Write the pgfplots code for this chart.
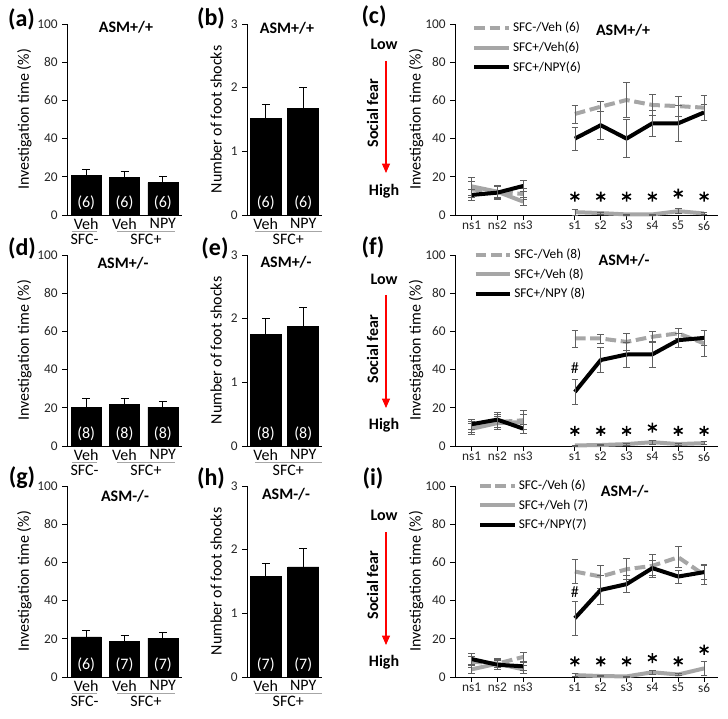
\documentclass[border=0pt]{standalone}
\usepackage{pgfplots}
\pgfplotsset{compat=1.18}
\usepackage{fontspec}
\setmainfont{Carlito}
\usetikzlibrary{arrows.meta}
\definecolor{lg}{HTML}{A6A6A6}
\definecolor{eb}{HTML}{606060}
\pgfplotsset{
 base/.style={scale only axis, axis lines=left, axis line style={black, line width=0.6pt, -},
   tick align=outside, major tick length=3.5pt, tick style={black, line width=0.6pt},
   ticklabel style={font=\fontsize{10}{12}\selectfont, text=black!85},
   /pgf/number format/assume math mode=true,
   ylabel style={font=\fontsize{12}{14}\selectfont, anchor=center},
   clip=false, anchor=south west, height=143.25pt, ymin=0},
 barA/.style={base, width=86.25pt, xmin=0.5, xmax=3.5, ymax=100, ytick={0,20,...,100},
   xtick={1,2,3}, xticklabels={Veh,Veh,NPY}, xtick style={draw=none},
   xticklabel style={font=\fontsize{12}{14}\selectfont, text=black, inner sep=0pt, yshift=1pt},
   ylabel={Investigation time (\%)}, ylabel style={at={(axis description cs:-0.37,0.5)}}},
 barB/.style={base, width=56.25pt, xmin=0.5, xmax=2.5, ymax=3, ytick={0,1,2,3},
   xtick={1,2}, xticklabels={Veh,NPY}, xtick style={draw=none},
   xticklabel style={font=\fontsize{12}{14}\selectfont, text=black, inner sep=0pt, yshift=1pt},
   ylabel={Number of foot shocks}, ylabel style={at={(axis description cs:-0.413,0.5)}}},
 lineC/.style={base, width=197.25pt, xmin=0.36, xmax=10.54, ymax=100, ytick={0,20,...,100},
   xtick={1,2,3,5,6,7,8,9,10}, xticklabels={ns1,ns2,ns3,s1,s2,s3,s4,s5,s6},
   xticklabel style={inner sep=1pt, yshift=0pt},
   ylabel={Investigation time (\%)}, ylabel style={at={(axis description cs:-0.148,0.5)}},
   unbounded coords=jump,
   legend cell align=left,
   legend image code/.code={\draw[##1] (0pt,0pt) -- (26pt,0pt);},
   legend style={anchor=north west, draw=none, fill=none, font=\fontsize{10}{12}\selectfont,
     row sep=3pt, inner sep=0pt, nodes={inner sep=1.5pt}}},
 barplot/.style={ybar, fill=black, draw=black, error bars/y dir=plus, error bars/y explicit,
   error bars/error bar style={black, line width=0.7pt},
   error bars/error mark options={rotate=90, mark size=3pt, black, line width=0.7pt}},
 ebar/.style={error bars/y dir=both, error bars/y explicit,
   error bars/error bar style={solid, line width=0.5pt, color=eb},
   error bars/error mark options={rotate=90, mark size=2.5pt, solid, line width=0.5pt, color=eb}},
 dline/.style={line width=3pt, color=lg, dash pattern=on 8pt off 3.5pt, line join=round, mark=none, ebar},
 gline/.style={line width=3pt, color=lg, line join=round, mark=none, ebar},
 kline/.style={line width=3pt, black, line join=round, mark=none, ebar},
 ast/.style={only marks, mark=asterisk, mark size=3.8pt, line width=1.2pt, black, forget plot},
}
\tikzset{
 nlab/.style={text=white, font=\fontsize{12}{14}\selectfont},
 ttl/.style={font=\bfseries\fontsize{12}{14}\selectfont},
 grp/.style={draw=lg, line width=0.7pt},
 glab/.style={font=\fontsize{12}{14}\selectfont},
 plab/.style={font=\bfseries\fontsize{18}{20}\selectfont},
 side/.style={font=\bfseries\fontsize{12}{14}\selectfont},
}
\begin{document}
\begin{tikzpicture}
\useasboundingbox (0pt,0pt) rectangle (546pt,538.5pt);

% ---------------- Row 1 ----------------
\begin{axis}[barA, at={(50.25pt,377.25pt)}]
\addplot[barplot, bar width=22.5pt] table[x=x,y=y,y error=e]{
x y e
1 20.9 2.7
2 19.7 3.0
3 16.9 3.1
};
\node[nlab] at (axis cs:1,6.3) {(6)};
\node[nlab] at (axis cs:2,6.3) {(6)};
\node[nlab] at (axis cs:3,6.3) {(6)};
\node[ttl] at (axis description cs:0.513,0.984) {ASM+/+};
\draw[grp] ([yshift=-12pt]axis cs:0.63,0) -- ([yshift=-12pt]axis cs:1.28,0);
\draw[grp] ([yshift=-12pt]axis cs:1.80,0) -- ([yshift=-12pt]axis cs:3.32,0);
\node[glab] at ([yshift=-18.5pt]axis cs:0.96,0) {SFC-};
\node[glab] at ([yshift=-18.5pt]axis cs:2.56,0) {SFC+};
\end{axis}

\begin{axis}[barB, at={(185.25pt,377.25pt)}]
\addplot[barplot, bar width=23.25pt] table[x=x,y=y,y error=e]{
x y e
1 1.52 0.21
2 1.676 0.33
};
\node[nlab] at (axis cs:1,0.19) {(6)};
\node[nlab] at (axis cs:2,0.19) {(6)};
\node[ttl] at (axis description cs:0.533,0.979) {ASM+/+};
\draw[grp] ([yshift=-12pt]axis cs:0.71,0) -- ([yshift=-12pt]axis cs:2.49,0);
\node[glab] at ([yshift=-18.5pt]axis cs:1.6,0) {SFC+};
\end{axis}

\begin{axis}[lineC, at={(341.25pt,377.25pt)}, legend style={at={(axis description cs:0.065,1.022)}}]
\addplot[dline] table[x=x,y=y,y error=e]{
x y e
1 13.4 4
2 12.2 3
3 11.0 3
4 nan nan
5 52.9 4.7
6 56.7 2.6
7 60.2 9
8 57.6 5.5
9 57.0 5.3
10 56.2 6.4
};
\addlegendentry{SFC-/Veh (6)}
\addplot[gline] table[x=x,y=y,y error=e]{
x y e
1 15.0 4.5
2 12.2 3.5
3 7.0 2
4 nan nan
5 1.5 1.5
6 1.0 0.5
7 0.3 0.3
8 0.3 0.3
9 2.0 1.3
10 0.8 0.5
};
\addlegendentry{SFC+/Veh(6)}
\addplot[kline] table[x=x,y=y,y error=e]{
x y e
1 10.5 3
2 11.7 3.5
3 15.2 3
4 nan nan
5 40.0 6
6 47.0 7.4
7 40.0 10
8 48.0 7
9 48.0 9.6
10 53.7 4.2
};
\addlegendentry{SFC+/NPY(6)}
\addplot[ast] coordinates {(5,9.6) (6,9.6) (7,9.6) (8,9.6) (9,11.2) (10,9.6)};
\node[ttl] at (axis description cs:0.639,0.969) {ASM+/+};
\end{axis}

% ---------------- Row 2 ----------------
\begin{axis}[barA, at={(50.25pt,204pt)}]
\addplot[barplot, bar width=22.5pt] table[x=x,y=y,y error=e]{
x y e
1 20.4 4.4
2 21.8 2.9
3 20.4 3.0
};
\node[nlab] at (axis cs:1,6.3) {(8)};
\node[nlab] at (axis cs:2,6.3) {(8)};
\node[nlab] at (axis cs:3,6.3) {(8)};
\node[ttl] at (axis description cs:0.487,0.958) {ASM+/-};
\draw[grp] ([yshift=-12pt]axis cs:0.63,0) -- ([yshift=-12pt]axis cs:1.28,0);
\draw[grp] ([yshift=-12pt]axis cs:1.80,0) -- ([yshift=-12pt]axis cs:3.32,0);
\node[glab] at ([yshift=-18.5pt]axis cs:0.96,0) {SFC-};
\node[glab] at ([yshift=-18.5pt]axis cs:2.56,0) {SFC+};
\end{axis}

\begin{axis}[barB, at={(185.25pt,204pt)}]
\addplot[barplot, bar width=23.25pt] table[x=x,y=y,y error=e]{
x y e
1 1.757 0.25
2 1.883 0.29
};
\node[nlab] at (axis cs:1,0.19) {(8)};
\node[nlab] at (axis cs:2,0.19) {(8)};
\node[ttl] at (axis description cs:0.52,0.963) {ASM+/-};
\draw[grp] ([yshift=-12pt]axis cs:0.71,0) -- ([yshift=-12pt]axis cs:2.49,0);
\node[glab] at ([yshift=-18.5pt]axis cs:1.6,0) {SFC+};
\end{axis}

\begin{axis}[lineC, at={(341.25pt,204pt)}, legend style={at={(axis description cs:0.07,1.045)}}]
\addplot[dline] table[x=x,y=y,y error=e]{
x y e
1 10.0 3
2 12.5 4
3 13.5 5
4 nan nan
5 56.3 4.4
6 56.3 2.3
7 54.5 4.5
8 57.2 2.7
9 59.0 2.5
10 53.7 7
};
\addlegendentry{SFC-/Veh (8)}
\addplot[gline] table[x=x,y=y,y error=e]{
x y e
1 9.0 3
2 12.0 3.5
3 12.5 4
4 nan nan
5 0.3 0.3
6 0.5 0.3
7 1.0 0.5
8 2.0 1
9 1.0 0.5
10 1.5 0.8
};
\addlegendentry{SFC+/Veh (8)}
\addplot[kline] table[x=x,y=y,y error=e]{
x y e
1 11.4 2.5
2 13.8 4
3 9.1 2.5
4 nan nan
5 28.3 6.7
6 45.0 6.5
7 47.9 6.5
8 48.0 7
9 55.4 3.5
10 56.6 3.7
};
\addlegendentry{SFC+/NPY (8)}
\addplot[ast] coordinates {(5,7.9) (6,7.9) (7,7.9) (8,9.6) (9,7.9) (10,7.9)};
\node[font=\fontsize{12}{14}\selectfont] at (axis cs:5,40.6) {\#};
\node[ttl] at (axis description cs:0.643,0.974) {ASM+/-};
\end{axis}

% ---------------- Row 3 ----------------
\begin{axis}[barA, at={(50.25pt,30.75pt)}]
\addplot[barplot, bar width=22.5pt] table[x=x,y=y,y error=e]{
x y e
1 21.0 3.4
2 18.7 3.1
3 20.4 3.0
};
\node[nlab] at (axis cs:1,6.3) {(6)};
\node[nlab] at (axis cs:2,6.3) {(7)};
\node[nlab] at (axis cs:3,6.3) {(7)};
\node[ttl] at (axis description cs:0.504,0.947) {ASM-/-};
\draw[grp] ([yshift=-12pt]axis cs:0.63,0) -- ([yshift=-12pt]axis cs:1.28,0);
\draw[grp] ([yshift=-12pt]axis cs:1.80,0) -- ([yshift=-12pt]axis cs:3.32,0);
\node[glab] at ([yshift=-18.5pt]axis cs:0.96,0) {SFC-};
\node[glab] at ([yshift=-18.5pt]axis cs:2.56,0) {SFC+};
\end{axis}

\begin{axis}[barB, at={(185.25pt,30.75pt)}]
\addplot[barplot, bar width=23.25pt] table[x=x,y=y,y error=e]{
x y e
1 1.584 0.2
2 1.73 0.29
};
\node[nlab] at (axis cs:1,0.19) {(7)};
\node[nlab] at (axis cs:2,0.19) {(7)};
\node[ttl] at (axis description cs:0.52,0.958) {ASM-/-};
\draw[grp] ([yshift=-12pt]axis cs:0.71,0) -- ([yshift=-12pt]axis cs:2.49,0);
\node[glab] at ([yshift=-18.5pt]axis cs:1.6,0) {SFC+};
\end{axis}

\begin{axis}[lineC, at={(341.25pt,30.75pt)}, legend style={at={(axis description cs:0.087,1.045)}}]
\addplot[dline] table[x=x,y=y,y error=e]{
x y e
1 8.0 3
2 7.0 3
3 10.5 2.5
4 nan nan
5 55.2 6.3
6 52.6 6
7 56.4 5.5
8 58.2 6
9 62.7 5.5
10 53.5 5
};
\addlegendentry{SFC-/Veh (6)}
\addplot[gline] table[x=x,y=y,y error=e]{
x y e
1 4.0 2
2 7.0 2
3 4.0 2
4 nan nan
5 1.0 0.8
6 0.5 0.3
7 0.3 0.3
8 2.5 1
9 1.3 0.5
10 4.5 3.5
};
\addlegendentry{SFC+/Veh (7)}
\addplot[kline] table[x=x,y=y,y error=e]{
x y e
1 9.4 3
2 6.4 2.5
3 5.6 2
4 nan nan
5 30.8 9
6 45.6 7.6
7 48.6 4.5
8 57.0 4
9 52.6 3.5
10 54.9 4
};
\addlegendentry{SFC+/NPY(7)}
\addplot[ast] coordinates {(5,8.2) (6,8.2) (7,8.2) (8,9.9) (9,8.2) (10,14.3)};
\node[font=\fontsize{12}{14}\selectfont] at (axis cs:5,44.3) {\#};
\node[ttl] at (axis description cs:0.646,0.974) {ASM-/-};
\end{axis}

\begin{scope}[x=0.75pt,y=0.75pt]
% ---------------- Panel letters ----------------
\node[plab] at (21.5,718-19) {(a)};
\node[plab] at (211,718-18) {(b)};
\node[plab] at (374,718-16) {(c)};
\node[plab] at (22,718-248) {(d)};
\node[plab] at (215,718-248) {(e)};
\node[plab] at (373,718-247) {(f)};
\node[plab] at (22,718-478) {(g)};
\node[plab] at (211,718-478) {(h)};
\node[plab] at (373,718-478) {(i)};

% ---------------- Social fear scales ----------------
\node[side] at (384,718-44) {Low};
\draw[red, line width=0.8pt, -{Triangle[length=7pt,width=6pt]}] (386,718-61) -- (386,718-173);
\node[side, rotate=90] at (372.5,718-113) {Social fear};
\node[side] at (384,718-191) {High};

\node[side] at (384,718-279) {Low};
\draw[red, line width=0.8pt, -{Triangle[length=7pt,width=6pt]}] (386,718-295) -- (386,718-408);
\node[side, rotate=90] at (372.5,718-349) {Social fear};
\node[side] at (384,718-425) {High};

\node[side] at (384,718-515) {Low};
\draw[red, line width=0.8pt, -{Triangle[length=7pt,width=6pt]}] (386,718-532) -- (386,718-645);
\node[side, rotate=90] at (372.5,718-585) {Social fear};
\node[side] at (384,718-662) {High};
\end{scope}
\end{tikzpicture}
\end{document}
